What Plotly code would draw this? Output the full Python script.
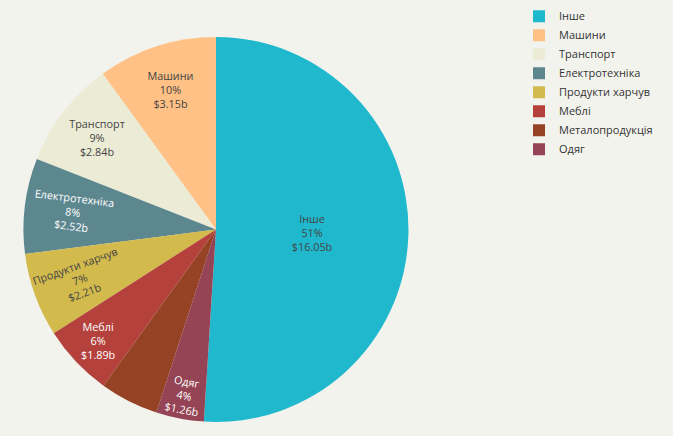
import plotly.graph_objects as go

# Категорії та значення (млрд $)
categories = ["Інше", "Машини", "Транспорт", "Електротехніка", "Продукти харчув",
              "Меблі", "Металопродукція", "Одяг"]
values = [16.05, 3.15, 2.84, 2.52, 2.21, 1.89, 1.55, 1.26]

colors = ['#1FB8CD', '#FFC185', '#ECEBD5', '#5D878F', '#D2BA4C',
          '#B4413C', '#964325', '#944454']

fig = go.Figure()
fig.add_trace(go.Pie(
    labels=categories,
    values=values,
    marker=dict(colors=colors),
    texttemplate='%{label}<br>%{percent:.0%}<br>$%{value:.2f}b',
    textposition='inside',
    textfont=dict(size=11),
    hoverinfo='label+percent+value',
    domain=dict(x=[0, 0.603], y=[0, 0.9233]),
))

fig.update_layout(
    width=673,
    height=436,
    paper_bgcolor='#F3F3EE',
    plot_bgcolor='#F3F3EE',
    font=dict(family='Open Sans, sans-serif', size=11, color='#13343B'),
    margin=dict(l=23, r=10, t=5, b=14, autoexpand=False),
    uniformtext=dict(minsize=10, mode='hide'),
    legend=dict(
        x=0.775, y=1.008, xanchor='left', yanchor='top',
        font=dict(size=11, color='#333333'),
        bgcolor='rgba(0,0,0,0)',
    ),
)

# прибрати типовий відступ сторінки, щоб графік стояв у куті вікна
fig.write_html("out.html", config={'displayModeBar': False},
               post_script="document.body.style.margin='0';")
